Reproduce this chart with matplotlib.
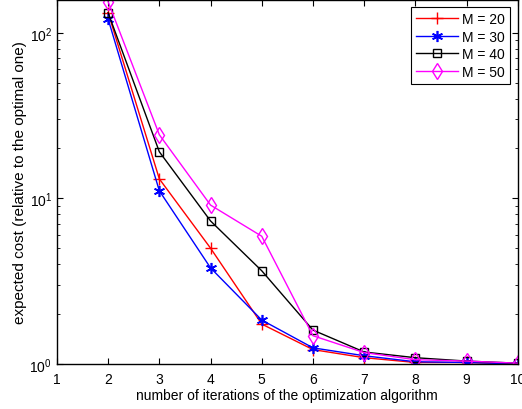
import numpy as np
import matplotlib
matplotlib.use("Agg")
from matplotlib import pyplot as plt

plt.rcParams['font.family'] = ['Liberation Sans', 'DejaVu Sans']

# iterations of the optimization algorithm
iters = [2, 3, 4, 5, 6, 7, 8, 9, 10]

# expected cost relative to the optimal one, one list per M
cost_m20 = [132, 13.1, 5.0, 1.74, 1.22, 1.09, 1.02, 1.02, 1.0]
cost_m30 = [121, 11.1, 3.8, 1.84, 1.25, 1.12, 1.03, 1.02, 1.0]
cost_m40 = [132, 19.1, 7.3, 3.65, 1.60, 1.18, 1.09, 1.04, 1.01]
cost_m50 = [154, 24.2, 9.1, 5.9, 1.48, 1.17, 1.06, 1.04, 1.01]

labels = ["M = 20", "M = 30", "M = 40", "M = 50"]

fig = plt.figure(figsize=(5.22, 4.10), dpi=100)
ax = fig.add_axes([0.109, 0.110, 0.883, 0.888])

# asterisk marker like matlab's '*'
asterisk = (6, 2, 0)

ax.plot(iters, cost_m20, color="red", marker="+", ms=8, lw=1, label=labels[0])
ax.plot(iters, cost_m30, color="blue", marker=asterisk, ms=8, mew=1.2, lw=1, label=labels[1])
ax.plot(iters, cost_m40, color="black", marker="s", ms=6, mfc="none", lw=1, label=labels[2])
ax.plot(iters, cost_m50, color="magenta", marker="d", ms=8, mfc="none", lw=1, label=labels[3])

ax.set_yscale("log")
ax.set_xlim(1, 10)
ax.set_ylim(1, 158)
ax.set_xticks(range(1, 11))

ax.tick_params(which="both", direction="in", top=True, right=True, labelsize=10)
ax.tick_params(which="major", length=4)
ax.tick_params(which="minor", length=2)
ax.tick_params(axis="x", pad=6)
for s in ax.spines.values():
    s.set_linewidth(1)

ax.set_xlabel("number of iterations of the optimization algorithm", fontsize=10, labelpad=1)
ax.set_ylabel("expected cost (relative to the optimal one)", fontsize=11, labelpad=2)

leg = ax.legend(loc="upper right", fontsize=10, fancybox=False, edgecolor="black",
                framealpha=1, handlelength=3.0, handletextpad=0.35, borderpad=0.35,
                labelspacing=0.25, borderaxespad=0.55)
leg.get_frame().set_linewidth(0.8)

fig.savefig("out.png", dpi=100)
